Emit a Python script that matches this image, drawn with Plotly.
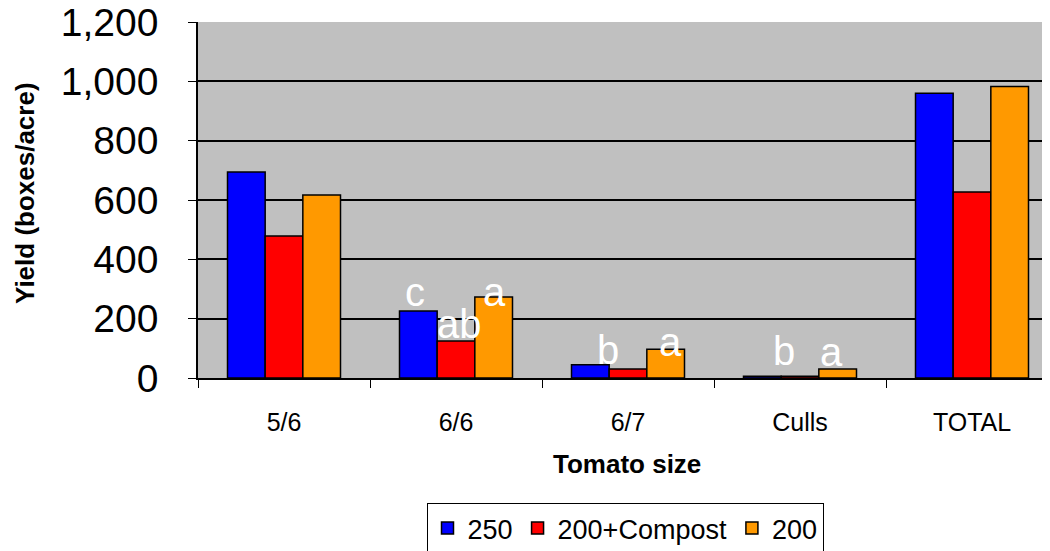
import plotly.graph_objects as go

categories = ["5/6", "6/6", "6/7", "Culls", "TOTAL"]
series_names = ["250", "200+Compost", "200"]
values_250 = [694, 226, 45, 6, 960]
values_200c = [479, 125, 30, 6, 627]
values_200 = [617, 273, 97, 30, 983]
y_ticks = [0, 200, 400, 600, 800, 1000, 1200]

# significance letters: (category, series index, letter)
letters = [("6/6", 0, "c"), ("6/6", 1, "ab"), ("6/6", 2, "a"),
           ("6/7", 1, "b"), ("6/7", 2, "a"),
           ("Culls", 1, "b"), ("Culls", 2, "a")]
# style offsets for letters (pixels): (xshift, yshift)
letter_offsets = [(-3, -5), (3, -7), (1, -19), (-20, -5), (5, -17), (-16, 1), (-6, -7)]

colors = ["#0000FF", "#FF0000", "#FF9900"]
all_vals = [values_250, values_200c, values_200]

fig = go.Figure()
for name, vals, c in zip(series_names, all_vals, colors):
    fig.add_trace(go.Bar(x=categories, y=vals, name=name,
                         marker=dict(color=c, line=dict(color="black", width=1.5))))

# page has an 8px body margin; figure sized to fit the 1050x551 window
OFF = 8
W, H = 1050 - OFF, 551 - OFF
L, T = 198 - OFF, 22 - OFF
PB = 378 - OFF          # plot bottom in figure px
R, B = 0, H - PB
PW, PH = W - L - R, H - T - B
bar_px = 113 / 3.0  # approx bar width

FONT = "Arial, Liberation Sans, sans-serif"
for (cat, si, txt), (dx, dy) in zip(letters, letter_offsets):
    v = all_vals[si][categories.index(cat)]
    fig.add_annotation(x=cat, y=v, xref="x", yref="y", text=txt, showarrow=False,
                       xshift=(si - 1) * bar_px + dx, yshift=dy, yanchor="bottom",
                       font=dict(family=FONT, size=40, color="white"))

fig.add_annotation(text="<b>Yield (boxes/acre)</b>", xref="paper", yref="paper",
                   x=(25 - 198) / PW, y=(378 - 193) / PH, textangle=-90, showarrow=False,
                   xanchor="center", yanchor="middle",
                   font=dict(family=FONT, size=26, color="black"))
fig.add_annotation(text="<b>Tomato size</b>", xref="paper", yref="paper",
                   x=(627 - 198) / PW, y=-(464 - 378) / PH,
                   showarrow=False, xanchor="center", yanchor="middle",
                   font=dict(family=FONT, size=26, color="black"))

fig.update_layout(
    width=W, height=H,
    margin=dict(l=L, r=R, t=T, b=B, autoexpand=False, pad=0),
    paper_bgcolor="white", plot_bgcolor="#C0C0C0",
    barmode="group", bargap=0.343, bargroupgap=0,
    font=dict(family=FONT, color="black"),
    showlegend=True,
    legend=dict(orientation="h", x=(625 - 198) / PW, y=-(503 - 378) / PH,
                xanchor="center", yanchor="top", bordercolor="black", borderwidth=1,
                bgcolor="white", font=dict(size=27), itemwidth=30, traceorder="normal"),
)
fig.update_xaxes(range=[-0.5, -0.5 + (1050 - 198) / 172.0],
                 showline=True, linecolor="black",
                 linewidth=1.5, ticks="outside", tickson="boundaries", ticklen=8,
                 tickcolor="black", tickfont=dict(size=25), ticklabelstandoff=21,
                 showgrid=False, automargin=False)
fig.update_yaxes(range=[0, 1200], tickvals=y_ticks, tickformat=",d", showline=True,
                 linecolor="black", linewidth=1.5, ticks="outside", ticklen=8, tickcolor="black",
                 tickfont=dict(size=39), gridcolor="black", gridwidth=1.5, zeroline=False,
                 ticklabelstandoff=22, automargin=False, ticklabeloverflow="allow")

fig.write_html("out.html")
